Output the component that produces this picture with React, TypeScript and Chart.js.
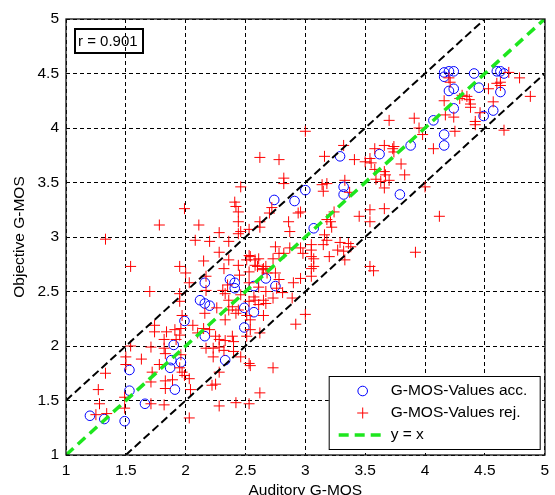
import React, { useEffect, useRef } from "react";
import { Chart, registerables } from "chart.js";

Chart.register(...registerables);

const TICK_VALUES = [1, 1.5, 2, 2.5, 3, 3.5, 4, 4.5, 5];
const X_TITLE = "Auditory G-MOS";
const Y_TITLE = "Objective G-MOS";
const CORR_LABEL = "r = 0.901";
const ACC_LABEL = "G-MOS-Values acc.";
const REJ_LABEL = "G-MOS-Values rej.";
const LINE_LABEL = "y = x";
const IDENTITY_RANGE = [1, 5];
const BAND_OFFSET = 0.5;

const ACC_POINTS: [number, number][] = [
  [1.2, 1.36], [1.32, 1.33], [1.49, 1.31], [1.53, 1.78], [1.53, 1.59], [1.66, 1.47],
  [1.91, 1.6], [1.87, 1.8], [1.88, 1.87], [1.9, 2.01], [1.96, 1.85], [1.99, 2.23],
  [2.12, 2.42], [2.16, 2.39], [2.2, 2.37], [2.16, 2.58], [2.16, 2.09], [2.33, 1.87],
  [2.37, 2.61], [2.41, 2.58], [2.41, 2.53], [2.49, 2.35], [2.49, 2.17], [2.57, 2.31],
  [2.57, 2.55], [2.67, 2.62], [2.75, 2.55], [2.74, 3.34], [2.91, 3.33], [3.0, 3.43],
  [3.07, 3.08], [3.29, 3.74], [3.32, 3.46], [3.32, 3.39], [3.62, 3.76], [3.79, 3.39],
  [3.88, 3.84], [4.07, 4.07], [4.16, 3.94], [4.16, 3.84], [4.16, 4.51], [4.16, 4.47],
  [4.2, 4.52], [4.24, 4.52], [4.2, 4.34], [4.24, 4.36], [4.24, 4.18], [4.41, 4.5],
  [4.45, 4.37], [4.49, 4.11], [4.57, 4.16], [4.6, 4.52], [4.63, 4.52], [4.66, 4.5],
  [4.63, 4.33],
];

const REJ_POINTS: [number, number][] = [
  [1.25, 1.37], [1.34, 1.38], [1.28, 1.47], [1.27, 1.6], [1.33, 1.75], [1.33, 2.98],
  [1.49, 1.43], [1.49, 1.53], [1.5, 1.83], [1.5, 1.9], [1.54, 2.0], [1.63, 1.88], [1.54, 2.73],
  [1.7, 2.5], [1.71, 1.47], [1.72, 1.76], [1.71, 1.67], [1.71, 1.99], [1.74, 2.13], [1.74, 2.19],
  [1.78, 1.83], [1.78, 3.11], [1.82, 1.46], [1.83, 1.61], [1.83, 1.68], [1.82, 1.98], [1.83, 1.93],
  [1.82, 2.06], [1.84, 2.13], [1.89, 1.69], [1.91, 2.15], [1.92, 2.06], [1.95, 1.8], [1.96, 1.92],
  [1.96, 2.16], [1.95, 2.1], [1.97, 1.76], [1.99, 1.73], [1.95, 2.41], [1.95, 2.73], [1.95, 2.48],
  [1.97, 2.28], [1.99, 3.26],
  [2.03, 1.34], [2.04, 1.6], [2.03, 1.7], [2.03, 2.58], [2.0, 2.67], [2.06, 2.19], [2.08, 2.97],
  [2.1, 2.12], [2.11, 3.11], [2.15, 2.78], [2.15, 2.16], [2.16, 2.3], [2.17, 2.51], [2.17, 1.98],
  [2.17, 2.64], [2.2, 2.96], [2.2, 2.15], [2.22, 1.64], [2.23, 1.9], [2.23, 1.98], [2.25, 2.09],
  [2.25, 1.65], [2.28, 1.45], [2.28, 1.76], [2.28, 2.06], [2.28, 1.99], [2.28, 2.86], [2.28, 3.04],
  [2.26, 2.35], [2.31, 2.51], [2.33, 2.48], [2.32, 1.96], [2.33, 2.05], [2.33, 2.24], [2.32, 2.71],
  [2.35, 2.56], [2.36, 2.42], [2.36, 2.33], [2.36, 2.96], [2.36, 2.79], [2.39, 2.36], [2.39, 2.09],
  [2.4, 2.04], [2.4, 1.95], [2.42, 2.3], [2.42, 1.48], [2.44, 2.33], [2.44, 2.74], [2.45, 2.65],
  [2.44, 3.03], [2.44, 3.14], [2.46, 2.47], [2.46, 1.9], [2.46, 3.46], [2.41, 3.32], [2.42, 3.28],
  [2.44, 3.23], [2.46, 3.05],
  [2.51, 2.79], [2.51, 2.28], [2.51, 2.09], [2.53, 2.68], [2.53, 1.47], [2.53, 2.83], [2.53, 3.07],
  [2.53, 2.41], [2.53, 2.58], [2.53, 1.84], [2.54, 2.15], [2.54, 1.82], [2.54, 2.24], [2.54, 2.82],
  [2.57, 2.45], [2.58, 2.74], [2.58, 2.79], [2.58, 2.42], [2.6, 2.73], [2.61, 2.8], [2.61, 2.38],
  [2.61, 2.54], [2.62, 1.57], [2.62, 2.12], [2.62, 3.14], [2.62, 3.09], [2.62, 3.73], [2.64, 2.7],
  [2.65, 2.28], [2.65, 2.42], [2.65, 2.71], [2.67, 2.73], [2.67, 2.5], [2.67, 2.39], [2.68, 2.67],
  [2.7, 3.22], [2.72, 3.27], [2.73, 2.8], [2.73, 1.8], [2.73, 2.44], [2.75, 2.91], [2.75, 2.67],
  [2.76, 2.53], [2.78, 2.61], [2.78, 2.85], [2.78, 3.71], [2.81, 2.49], [2.82, 2.85], [2.82, 3.54],
  [2.82, 3.49], [2.86, 3.14], [2.87, 3.05], [2.87, 2.9], [2.89, 2.44], [2.9, 2.58], [2.92, 2.2],
  [2.94, 3.22], [2.96, 2.9], [2.96, 3.23], [2.96, 2.62], [2.98, 2.85], [3.0, 2.29], [3.0, 3.97],
  [3.05, 2.93], [3.05, 2.88], [3.05, 2.82], [3.05, 2.71], [3.05, 2.64], [3.07, 2.8], [3.07, 2.73],
  [3.15, 2.93], [3.14, 3.48], [3.18, 3.49], [3.15, 3.42], [3.16, 3.74], [3.18, 3.16], [3.22, 3.09],
  [3.18, 2.97], [3.16, 3.02], [3.24, 3.23], [3.21, 3.14], [3.2, 2.82], [3.27, 2.88], [3.29, 2.95],
  [3.32, 2.87], [3.33, 2.79], [3.36, 2.94], [3.38, 2.91], [3.32, 3.84], [3.37, 3.41], [3.33, 3.52],
  [3.41, 3.71], [3.45, 3.19], [3.5, 3.69], [3.54, 3.72], [3.55, 3.68], [3.54, 3.25], [3.54, 3.14],
  [3.54, 2.73], [3.57, 2.69], [3.58, 3.81], [3.58, 3.62], [3.59, 3.53], [3.63, 3.51], [3.66, 3.84],
  [3.66, 3.6], [3.67, 3.57], [3.66, 3.45], [3.66, 3.26], [3.7, 3.52], [3.7, 4.07], [3.73, 3.81],
  [3.74, 3.78], [3.74, 3.83], [3.8, 3.67], [3.83, 3.57], [3.91, 4.09], [3.92, 2.86], [3.95, 4.0],
  [3.98, 3.94], [4.0, 3.46], [4.07, 3.81], [4.12, 3.19], [4.16, 4.25], [4.17, 4.12], [4.2, 4.46],
  [4.21, 4.42], [4.24, 4.1], [4.25, 3.97], [4.29, 4.27], [4.31, 4.3], [4.35, 4.29], [4.37, 4.26],
  [4.38, 4.22], [4.38, 4.19], [4.42, 4.06], [4.42, 4.03], [4.46, 4.14], [4.53, 4.36], [4.57, 4.24],
  [4.6, 4.41], [4.63, 4.42], [4.63, 4.39], [4.66, 3.98], [4.7, 4.51], [4.79, 4.46], [4.88, 4.29],
];

const FONT = '"Liberation Sans", Arial, Helvetica, sans-serif';
const BLUE = "#0000ff";
const RED = "#ff0000";
const GREEN = "#1ee61e";

export default function App() {
  const ref = useRef<HTMLCanvasElement>(null);

  useEffect(() => {
    const canvas = ref.current;
    if (!canvas) return;
    const toPts = (arr: [number, number][]) => arr.map(([x, y]) => ({ x, y }));
    const [lo, hi] = IDENTITY_RANGE;

    const overlay = {
      id: "overlay",
      afterDraw(chart: any) {
        const { ctx, chartArea: a } = chart;
        ctx.save();
        ctx.setLineDash([]);
        // axes box
        ctx.strokeStyle = "#111";
        ctx.lineWidth = 1.3;
        const L = Math.round(a.left);
        const T = Math.round(a.top);
        const R = Math.round(a.right);
        const B = Math.round(a.bottom);
        ctx.strokeRect(L, T, R - L, B - T);

        // correlation box
        ctx.strokeStyle = "#000";
        ctx.lineWidth = 2;
        ctx.strokeRect(a.left + 9, a.top + 10, 68, 24);
        ctx.fillStyle = "#000";
        ctx.font = `15px ${FONT}`;
        ctx.textBaseline = "middle";
        ctx.textAlign = "left";
        ctx.fillText(CORR_LABEL, a.left + 12, a.top + 22.5);

        // legend
        const bw = 211, bh = 73;
        const bx = a.right - 216, by = a.bottom - 79;
        ctx.fillStyle = "#fff";
        ctx.fillRect(bx, by, bw, bh);
        ctx.lineWidth = 1;
        ctx.strokeStyle = "#000";
        ctx.strokeRect(bx + 0.5, by + 0.5, bw, bh);
        const mx = bx + 34;
        const tx = bx + 62;
        const rows = [by + 15, by + 37, by + 59];
        ctx.strokeStyle = BLUE;
        ctx.beginPath();
        ctx.arc(mx, rows[0], 4.8, 0, Math.PI * 2);
        ctx.stroke();
        ctx.strokeStyle = RED;
        ctx.beginPath();
        ctx.moveTo(mx - 5.5, rows[1]);
        ctx.lineTo(mx + 5.5, rows[1]);
        ctx.moveTo(mx, rows[1] - 5.5);
        ctx.lineTo(mx, rows[1] + 5.5);
        ctx.stroke();
        ctx.strokeStyle = GREEN;
        ctx.lineWidth = 3.5;
        ctx.setLineDash([10, 6]);
        ctx.beginPath();
        ctx.moveTo(bx + 10, rows[2]);
        ctx.lineTo(bx + 58, rows[2]);
        ctx.stroke();
        ctx.setLineDash([]);
        ctx.fillStyle = "#000";
        ctx.font = `15.5px ${FONT}`;
        ctx.fillText(ACC_LABEL, tx, rows[0]);
        ctx.fillText(REJ_LABEL, tx, rows[1]);
        ctx.fillText(LINE_LABEL, tx, rows[2]);
        ctx.restore();
      },
    };

    const gridOpts = {
      color: "#000",
      lineWidth: 1,
      drawTicks: false,
      borderDash: [4, 3],
    };

    const chart = new Chart(canvas, {
      type: "scatter",
      data: {
        datasets: [
          {
            label: ACC_LABEL,
            data: toPts(ACC_POINTS),
            pointStyle: "circle",
            pointRadius: 4.8,
            borderColor: BLUE,
            backgroundColor: "rgba(0,0,0,0)",
            borderWidth: 1,
            order: 4,
          } as any,
          {
            label: REJ_LABEL,
            data: toPts(REJ_POINTS),
            pointStyle: "cross",
            pointRadius: 5.5,
            borderColor: RED,
            backgroundColor: RED,
            borderWidth: 1,
            order: 3,
          },
          {
            label: LINE_LABEL,
            data: [{ x: lo, y: lo }, { x: hi, y: hi }],
            showLine: true,
            borderColor: GREEN,
            borderWidth: 3.5,
            borderDash: [10, 6],
            pointRadius: 0,
            order: 1,
          },
          {
            label: "upper",
            data: [{ x: lo, y: lo + BAND_OFFSET }, { x: hi - BAND_OFFSET, y: hi }],
            showLine: true,
            borderColor: "#000",
            borderWidth: 2,
            borderDash: [8, 4],
            pointRadius: 0,
            order: 2,
          },
          {
            label: "lower",
            data: [{ x: lo + BAND_OFFSET, y: lo }, { x: hi, y: hi - BAND_OFFSET }],
            showLine: true,
            borderColor: "#000",
            borderWidth: 2,
            borderDash: [8, 4],
            pointRadius: 0,
            order: 2,
          },
        ],
      },
      options: {
        animation: false,
        responsive: false,
        maintainAspectRatio: false,
        devicePixelRatio: 1,
        events: [],
        layout: { padding: { top: 19, right: 7, left: 0, bottom: 0 } },
        plugins: { legend: { display: false }, tooltip: { enabled: false } },
        scales: {
          x: {
            type: "linear",
            min: TICK_VALUES[0],
            max: TICK_VALUES[TICK_VALUES.length - 1],
            afterBuildTicks: (s: any) => {
              s.ticks = TICK_VALUES.map((v) => ({ value: v }));
            },
            afterFit: (s: any) => {
              s.height = 40;
            },
            ticks: {
              color: "#000",
              padding: 6,
              font: { family: FONT, size: 15.5 },
              callback: (v: any) => String(v),
              maxRotation: 0,
              autoSkip: false,
            },
            grid: { ...gridOpts } as any,
            border: { display: false, dash: [4, 3] },
            title: {
              display: true,
              text: X_TITLE,
              color: "#000",
              font: { family: FONT, size: 15.5, lineHeight: 0.6 },
              padding: 0,
            },
          },
          y: {
            type: "linear",
            min: TICK_VALUES[0],
            max: TICK_VALUES[TICK_VALUES.length - 1],
            afterBuildTicks: (s: any) => {
              s.ticks = TICK_VALUES.map((v) => ({ value: v }));
            },
            afterFit: (s: any) => {
              s.width = 66;
            },
            ticks: {
              color: "#000",
              padding: 7,
              font: { family: FONT, size: 15.5 },
              callback: (v: any) => String(v),
              autoSkip: false,
            },
            grid: { ...gridOpts } as any,
            border: { display: false, dash: [4, 3] },
            title: {
              display: true,
              text: Y_TITLE,
              color: "#000",
              font: { family: FONT, size: 15.5 },
              padding: { top: 10, bottom: 0 },
            },
          },
        },
      },
      plugins: [overlay],
    });

    return () => chart.destroy();
  }, []);

  return (
    <div style={{ position: "absolute", left: 0, top: 0, width: 555, height: 495, background: "#fff" }}>
      <canvas ref={ref} width={555} height={495} style={{ display: "block" }} />
    </div>
  );
}
